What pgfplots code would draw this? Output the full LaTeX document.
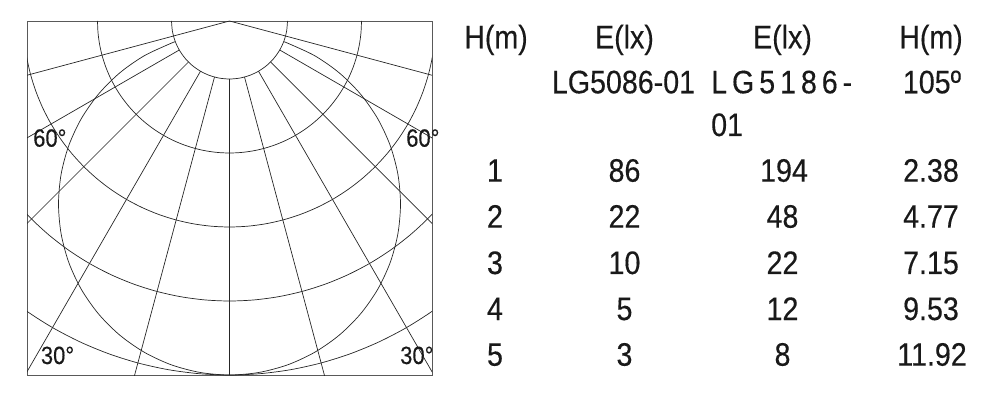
\documentclass[border=0pt]{standalone}
\usepackage{pgfplots}
\pgfplotsset{compat=1.18}
\usepackage{fontspec}
\setmainfont[FakeStretch=0.88,FakeBold=0.3]{Liberation Sans}
\definecolor{ln}{gray}{0.15}
\newcommand{\ringangles}[1]{(180,#1)(185,#1)(190,#1)(195,#1)(200,#1)(205,#1)(210,#1)(215,#1)(220,#1)(225,#1)(230,#1)(235,#1)(240,#1)(245,#1)(250,#1)(255,#1)(260,#1)(265,#1)(270,#1)(275,#1)(280,#1)(285,#1)(290,#1)(295,#1)(300,#1)(305,#1)(310,#1)(315,#1)(320,#1)(325,#1)(330,#1)(335,#1)(340,#1)(345,#1)(350,#1)(355,#1)(360,#1)}
\begin{document}
\begin{tikzpicture}
\path[use as bounding box] (0pt,0pt) rectangle (1000pt,-419pt);
\begin{axis}[
  at={(27pt,-21pt)}, anchor=north west,
  x=1pt, y=1pt,
  xmin=-202.5, xmax=202.5, ymin=-354, ymax=0,
  xtick=\empty, ytick=\empty,
  axis line style={draw=black!65, line width=0.95pt},
  every axis plot/.append style={draw=ln, line width=0.7pt, no markers},
]
% rings about the apex
\addplot[data cs=polar, smooth] coordinates {(180,58)(190,58)(200,58)(210,58)(220,58)(230,58)(240,58)(250,58)(260,58)(270,58)(280,58)(290,58)(300,58)(310,58)(320,58)(330,58)(340,58)(350,58)(360,58)};
\addplot[data cs=polar, smooth] coordinates {\ringangles{132}};
\addplot[data cs=polar, smooth] coordinates {\ringangles{206}};
\addplot[data cs=polar, smooth] coordinates {\ringangles{280}};
\addplot[data cs=polar, smooth] coordinates {\ringangles{354}};
% radial lines
\addplot[data cs=polar] coordinates {(270,58)(270,354)};
\addplot[data cs=polar] coordinates {(255,58)(255,400)};
\addplot[data cs=polar] coordinates {(285,58)(285,400)};
\addplot[data cs=polar] coordinates {(240,58)(240,420)};
\addplot[data cs=polar] coordinates {(300,58)(300,420)};
\addplot[data cs=polar] coordinates {(225,58)(225,300)};
\addplot[data cs=polar] coordinates {(315,58)(315,300)};
\addplot[data cs=polar] coordinates {(210,58)(210,240)};
\addplot[data cs=polar] coordinates {(330,58)(330,240)};
\addplot[data cs=polar] coordinates {(195,0)(195,215)};
\addplot[data cs=polar] coordinates {(345,0)(345,215)};
% beam circle
\addplot[smooth] coordinates {(-54.1,-20.8)(-58.5,-22.3)(-85.5,-34.9)(-109.9,-52.0)(-131.0,-73.1)(-148.1,-97.5)(-160.7,-124.5)(-168.4,-153.3)(-171,-183)(-168.4,-212.7)(-160.7,-241.5)(-148.1,-268.5)(-131.0,-292.9)(-109.9,-314.0)(-85.5,-331.1)(-58.5,-343.7)(-29.7,-351.4)(0,-354)(29.7,-351.4)(58.5,-343.7)(85.5,-331.1)(109.9,-314.0)(131.0,-292.9)(148.1,-268.5)(160.7,-241.5)(168.4,-212.7)(171,-183)(168.4,-153.3)(160.7,-124.5)(148.1,-97.5)(131.0,-73.1)(109.9,-52.0)(85.5,-34.9)(58.5,-22.3)(54.1,-20.8)};
\end{axis}
% angle labels
\begin{scope}[every node/.style={anchor=base west, inner sep=0pt, font=\fontsize{25}{30}\selectfont, text=black!90}]
\node at (33pt,-146.7pt) {60°};
\node at (406pt,-146.7pt) {60°};
\node at (40.7pt,-364pt) {30°};
\begin{scope}
\clip (380pt,-330pt) rectangle (432.5pt,-375pt);
\node at (400pt,-364pt) {30°};
\end{scope}
\end{scope}
% table
\begin{scope}[every node/.style={anchor=base, inner sep=0pt, font=\fontsize{32.5}{38}\selectfont, text=black!90}]
\node at (496pt,-48.3pt) {H(m)};
\node at (624.5pt,-48.3pt) {E(lx)};
\node at (782.5pt,-48.3pt) {E(lx)};
\node at (931pt,-48.3pt) {H(m)};
\node at (623.5pt,-93.3pt) {LG5086-01};
\node[anchor=base west] at (711pt,-93.3pt) {\makebox[141pt][s]{L\hfill G\hfill 5\hfill 1\hfill 8\hfill 6\hfill -}};
\node[anchor=base west] at (711pt,-136pt) {01};
\node at (932pt,-93.3pt) {105º};
\node at (495pt,-181.7pt) {1};
\node at (624.5pt,-181.7pt) {86};
\node at (784pt,-181.7pt) {194};
\node at (931pt,-181.7pt) {2.38};
\node at (495pt,-227.7pt) {2};
\node at (624.5pt,-227.7pt) {22};
\node at (782.5pt,-227.7pt) {48};
\node at (931pt,-227.7pt) {4.77};
\node at (495pt,-274pt) {3};
\node at (624.5pt,-274pt) {10};
\node at (782.5pt,-274pt) {22};
\node at (931pt,-274pt) {7.15};
\node at (495pt,-320pt) {4};
\node at (624.5pt,-320pt) {5};
\node at (782.5pt,-320pt) {12};
\node at (931pt,-320pt) {9.53};
\node at (495pt,-365.7pt) {5};
\node at (624.5pt,-365.7pt) {3};
\node at (782.5pt,-365.7pt) {8};
\node at (932pt,-365.7pt) {11.92};
\end{scope}
\end{tikzpicture}
\end{document}
